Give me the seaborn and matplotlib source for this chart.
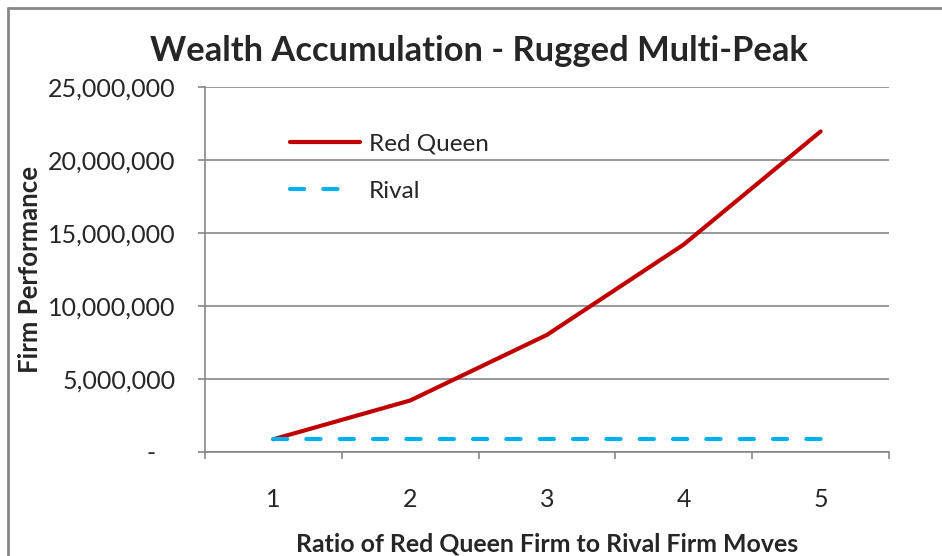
import matplotlib
matplotlib.use("Agg")
import matplotlib.pyplot as plt
import pandas as pd
import seaborn as sns
from matplotlib.lines import Line2D
from matplotlib.ticker import FuncFormatter, FixedLocator

# Data
ratios = [1, 2, 3, 4, 5]
red_queen = [840000, 3500000, 8000000, 14200000, 21950000]
rival = [840000, 840000, 840000, 840000, 840000]
series_names = ["Red Queen", "Rival"]
series_colors = ["#C00000", "#00B0F0"]

df = pd.DataFrame({
    "Ratio": ratios * 2,
    "Performance": red_queen + rival,
    "Firm": [series_names[0]] * len(ratios) + [series_names[1]] * len(ratios),
})

sns.set_style("white")
plt.rcParams["font.family"] = ["Lato", "DejaVu Sans"]
grey = "#878787"
dash = (3.4, 4.6)

fig = plt.figure(figsize=(9.42, 5.56), dpi=100)
ax = fig.add_axes([205 / 942, (556 - 451.5) / 556, (889 - 205) / 942, (451.5 - 87) / 556])

sns.lineplot(data=df, x="Ratio", y="Performance", hue="Firm", style="Firm",
             palette=dict(zip(series_names, series_colors)),
             dashes={"Red Queen": "", "Rival": dash},
             linewidth=3, legend=False, ax=ax)
for ln in ax.get_lines():
    ln.set_solid_capstyle("round")
    ln.set_dash_capstyle("round")

ax.set_xlim(0.5, 5.5)
ax.set_ylim(0, 25000000)
ax.set_yticks(range(0, 25000001, 5000000))
ax.yaxis.set_major_formatter(FuncFormatter(lambda v, p: "-" if v == 0 else f"{v:,.0f}"))
ax.set_xticks(ratios)
ax.xaxis.set_minor_locator(FixedLocator([0.5, 1.5, 2.5, 3.5, 4.5, 5.5]))

ax.grid(axis="y", color=grey, linewidth=1.2)
ax.set_axisbelow(True)
for s in ["top", "right"]:
    ax.spines[s].set_visible(False)
for s in ["left", "bottom"]:
    ax.spines[s].set_color(grey)
    ax.spines[s].set_linewidth(1.2)

ax.tick_params(axis="y", which="major", direction="out", length=5, width=1.2,
               color=grey, labelsize=18, pad=16, left=True)
ax.tick_params(axis="x", which="major", length=0, labelsize=18, pad=26)
ax.tick_params(axis="x", which="minor", direction="out", length=5, width=1.2,
               color=grey, bottom=True)
# move the "-" zero label left like the accounting format
for t in ax.get_yticklabels():
    if t.get_text() == "-":
        t.set_x(-0.03)

ax.set_xlabel("Ratio of Red Queen Firm to Rival Firm Moves", fontsize=17.9,
              fontweight="bold", labelpad=16)
ax.set_ylabel("Firm Performance", fontsize=18.5, fontweight="bold")
ax.yaxis.set_label_coords(-0.238, 0.5)
fig.suptitle("Wealth Accumulation - Rugged Multi-Peak", fontsize=24.8,
             fontweight="bold", x=479 / 942, y=1 - 51 / 556, va="center")

# legend handle for Rival shows two dashes only, like the original
handles = [Line2D([], [], color=series_colors[0], linewidth=3, solid_capstyle="round"),
           Line2D([], [], color=series_colors[1], linewidth=3,
                  linestyle=(0, (3.4, 4.6, 3.4, 10)), dash_capstyle="round")]
fig.legend(handles, series_names, loc="upper left", frameon=False, fontsize=17.5,
           bbox_to_anchor=(268 / 942, 1 - 112 / 556), handlelength=2.9,
           handletextpad=0.35, labelspacing=1.07)

# chart border (top and left edges visible)
fig.add_artist(Line2D([8 / 942, 1], [1 - 8 / 556, 1 - 8 / 556], color=grey,
                      linewidth=2, transform=fig.transFigure))
fig.add_artist(Line2D([8 / 942, 8 / 942], [1 - 8 / 556, 0], color=grey,
                      linewidth=2, transform=fig.transFigure))

fig.savefig("out.png", dpi=100)
